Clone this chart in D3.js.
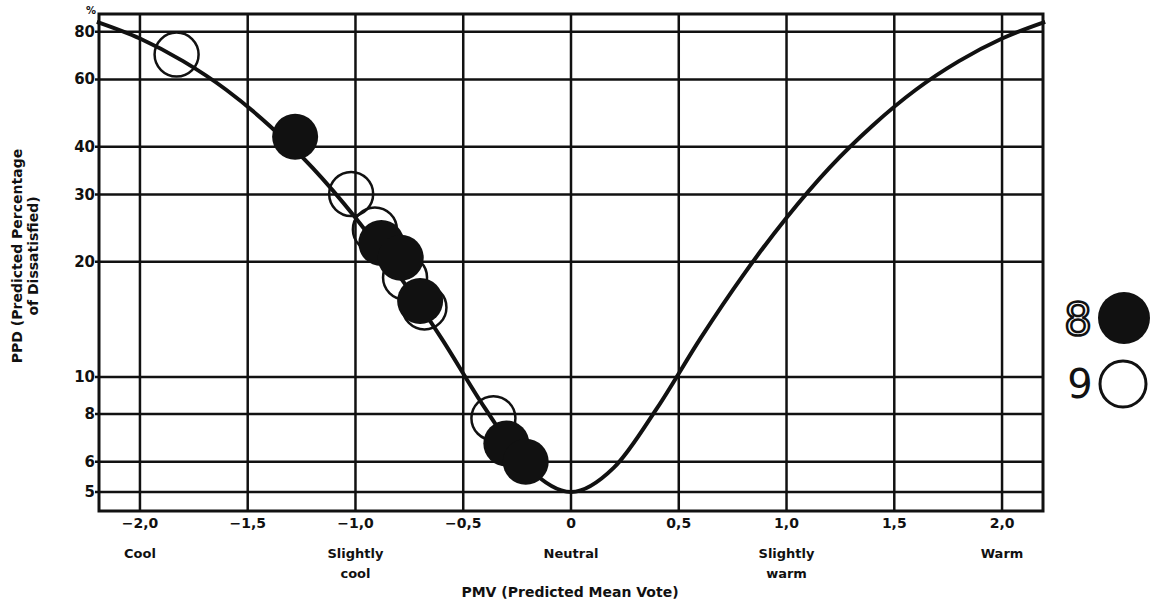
<!DOCTYPE html>
<html>
<head>
<meta charset="utf-8">
<script src="https://cdn.jsdelivr.net/npm/d3@7"></script>
<style>
  body { margin: 0; background: #fff; }
  text { font-family: "DejaVu Sans", sans-serif; font-weight: bold; fill: #111; }
</style>
</head>
<body>
<svg id="chart" width="1163" height="605"></svg>
<script>
// PMV ticks and the category words under them
let pmvTicks = [-2, -1.5, -1, -0.5, 0, 0.5, 1, 1.5, 2];
let pmvTickLabels = ["\u22122,0", "\u22121,5", "\u22121,0", "\u22120,5", "0", "0,5", "1,0", "1,5", "2,0"];
let voteWords = [
    {pmv: -2, lines: ["Cool"]},
    {pmv: -1, lines: ["Slightly", "cool"]},
    {pmv: 0, lines: ["Neutral"]},
    {pmv: 1, lines: ["Slightly", "warm"]},
    {pmv: 2, lines: ["Warm"]}
];
let ppdTicks = [80, 60, 40, 30, 20, 10, 8, 6, 5];

// PPD curve
let curvePmv = [-2.2, -2.0, -1.8, -1.6, -1.4, -1.2, -1.0, -0.8, -0.6, -0.4, -0.2, 0,
                0.2, 0.4, 0.6, 0.8, 1.0, 1.2, 1.4, 1.6, 1.8, 2.0, 2.2];
let curvePpd = [84.9, 76.8, 67.0, 56.4, 45.5, 35.3, 26.1, 18.5, 12.6, 8.3, 5.8, 5.0,
                5.8, 8.3, 12.6, 18.5, 26.1, 35.3, 45.5, 56.4, 67.0, 76.8, 84.9];

// measured points: series 8 (filled) and 9 (open)
let filledPmv = [-1.28, -0.88, -0.79, -0.70, -0.30, -0.21];
let filledPpd = [42.5, 22.4, 20.5, 15.8, 6.7, 6.0];
let openPmv = [-1.83, -1.02, -0.91, -0.77, -0.68, -0.36];
let openPpd = [69.7, 30.1, 24.3, 18.2, 15.2, 7.8];

let svg = d3.select('#chart');
let mLeft = 99, mRight = 1043, mTop = 14, mBottom = 511;

let x = d3.scaleLinear().domain([-2.19, 2.19]).range([mLeft, mRight]);
let y = d3.scaleLog().domain([4.46, 89]).range([mBottom, mTop]);

let ink = '#111';

// grid
let grid = svg.append('g');
grid.selectAll('line.v')
    .data(pmvTicks)
    .enter()
    .append('line')
    .attr('x1', d => x(d)).attr('x2', d => x(d))
    .attr('y1', mTop).attr('y2', mBottom)
    .attr('stroke', ink).attr('stroke-width', 2.5);
grid.selectAll('line.h')
    .data(ppdTicks)
    .enter()
    .append('line')
    .attr('x1', mLeft - 4).attr('x2', mRight)
    .attr('y1', d => y(d)).attr('y2', d => y(d))
    .attr('stroke', ink).attr('stroke-width', 2.5);
grid.append('rect')
    .attr('x', mLeft).attr('y', mTop)
    .attr('width', mRight - mLeft).attr('height', mBottom - mTop)
    .attr('fill', 'none').attr('stroke', ink).attr('stroke-width', 3);

// y tick labels
svg.append('g').selectAll('text')
    .data(ppdTicks)
    .enter()
    .append('text')
    .attr('x', mLeft - 4)
    .attr('y', d => y(d) + 5)
    .attr('text-anchor', 'end')
    .attr('font-size', '15px')
    .text(d => d);
svg.append('text')
    .attr('x', 91).attr('y', 14)
    .attr('text-anchor', 'middle')
    .attr('font-size', '10px')
    .text('%');

// x tick labels
svg.append('g').selectAll('text')
    .data(pmvTicks)
    .enter()
    .append('text')
    .attr('x', d => x(d))
    .attr('y', 528)
    .attr('text-anchor', 'middle')
    .attr('font-size', '14px')
    .text((d, i) => pmvTickLabels[i]);

// vote words
let words = svg.append('g').selectAll('text')
    .data(voteWords)
    .enter()
    .append('text')
    .attr('text-anchor', 'middle')
    .attr('font-size', '13px');
words.selectAll('tspan')
    .data(d => d.lines.map(l => ({pmv: d.pmv, l: l})))
    .enter()
    .append('tspan')
    .attr('x', d => x(d.pmv))
    .attr('y', (d, i) => 558 + i * 20)
    .text(d => d.l);

// axis titles
svg.append('text')
    .attr('x', 570).attr('y', 597)
    .attr('text-anchor', 'middle')
    .attr('font-size', '14px')
    .text('PMV (Predicted Mean Vote)');
let yTitle = svg.append('text')
    .attr('transform', 'translate(22,256) rotate(-90)')
    .attr('text-anchor', 'middle')
    .attr('font-size', '14px');
yTitle.append('tspan').attr('x', 0).attr('y', 0).text('PPD (Predicted Percentage');
yTitle.append('tspan').attr('x', 0).attr('y', 16).text('of Dissatisfied)');

// curve
let line = d3.line()
    .x(d => x(d[0]))
    .y(d => y(d[1]))
    .curve(d3.curveMonotoneX);
svg.append('path')
    .datum(d3.zip(curvePmv, curvePpd))
    .attr('d', line)
    .attr('fill', 'none')
    .attr('stroke', ink)
    .attr('stroke-width', 4);

// points
svg.append('g').selectAll('circle')
    .data(d3.zip(openPmv, openPpd))
    .enter()
    .append('circle')
    .attr('cx', d => x(d[0])).attr('cy', d => y(d[1]))
    .attr('r', 22)
    .attr('fill', 'none')
    .attr('stroke', ink).attr('stroke-width', 2.5);
svg.append('g').selectAll('circle')
    .data(d3.zip(filledPmv, filledPpd))
    .enter()
    .append('circle')
    .attr('cx', d => x(d[0])).attr('cy', d => y(d[1]))
    .attr('r', 23)
    .attr('fill', ink);

// legend
let legend = svg.append('g');
legend.append('text')
    .attr('x', 1078).attr('y', 335)
    .attr('text-anchor', 'middle')
    .attr('font-size', '44px')
    .style('font-weight', 'normal')
    .style('fill', 'none').attr('stroke', ink).attr('stroke-width', 2.5)
    .text('8');
legend.append('circle')
    .attr('cx', 1124).attr('cy', 318).attr('r', 26)
    .attr('fill', ink);
legend.append('text')
    .attr('x', 1080).attr('y', 398)
    .attr('text-anchor', 'middle')
    .attr('font-size', '40px')
    .style('font-weight', 'normal')
    .text('9');
legend.append('circle')
    .attr('cx', 1123).attr('cy', 384).attr('r', 23)
    .attr('fill', 'none')
    .attr('stroke', ink).attr('stroke-width', 3);
</script>
</body>
</html>
